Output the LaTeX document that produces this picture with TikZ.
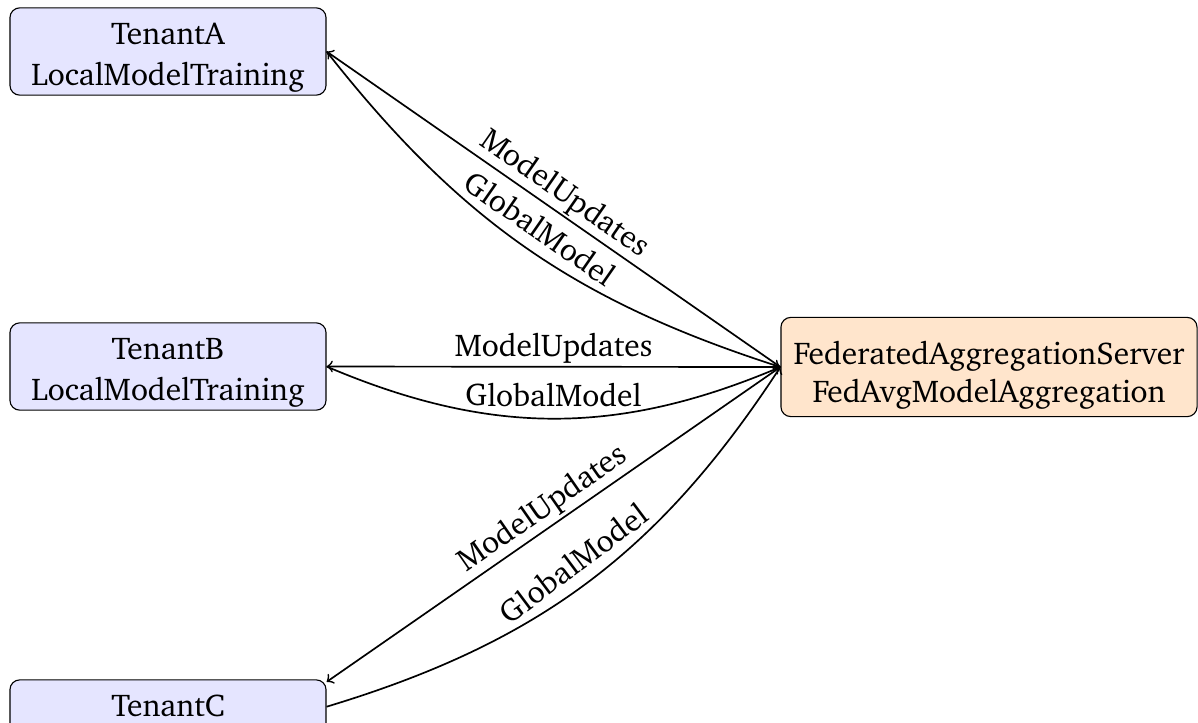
\documentclass[tikz,border=0pt]{standalone}
\usepackage[T1]{fontenc}
\usepackage{charter}

\newcommand{\topgap}[1]{\rule{0pt}{#1}}

\begin{document}
\begin{tikzpicture}[x=0.0125cm,y=-0.0125cm,->,>=to,semithick,font=\fontsize{11.2}{14.5}\selectfont,
  tenant/.style={draw,thin,rounded corners=3.5pt,fill=blue!10,align=center,minimum width=3.95cm,minimum height=1.09cm,inner ysep=1.1pt},
  server/.style={draw,thin,rounded corners=3.5pt,fill=orange!20,align=center,minimum width=5.2cm,minimum height=1.24cm,inner ysep=2pt,
    font=\fontsize{11.2}{13.5}\selectfont},
  update/.style={midway,sloped,above,inner sep=1pt},
  global/.style={midway,sloped,above,inner sep=4pt}]
\useasboundingbox (0,0) rectangle (1198,722);
\node[tenant] (A) at (168,51.5) {\topgap{12pt}TenantA\\LocalModelTraining};
\node[tenant] (B) at (168,366.5) {\topgap{12pt}TenantB\\LocalModelTraining};
\node[tenant] (C) at (168,723.5) {\topgap{12pt}TenantC\\LocalModelTraining};
\node[server] (S) at (989,367) {\topgap{14pt}FederatedAggregationServer\\FedAvgModelAggregation};
\path (S.west) edge node[update] {ModelUpdates} (A.east);
\path (A.east) edge[bend right=17] node[global] {GlobalModel} (S.west);
\path (S.west) edge node[update] {ModelUpdates} (B.east);
\path (B.east) edge[bend right=23] node[global] {GlobalModel} (S.west);
\path (S.west) edge node[update] {ModelUpdates} ([yshift=0.52cm]C.east);
\path ([yshift=0.21cm]C.east) edge[bend right=20] node[global] {GlobalModel} (S.west);
\end{tikzpicture}
\end{document}
